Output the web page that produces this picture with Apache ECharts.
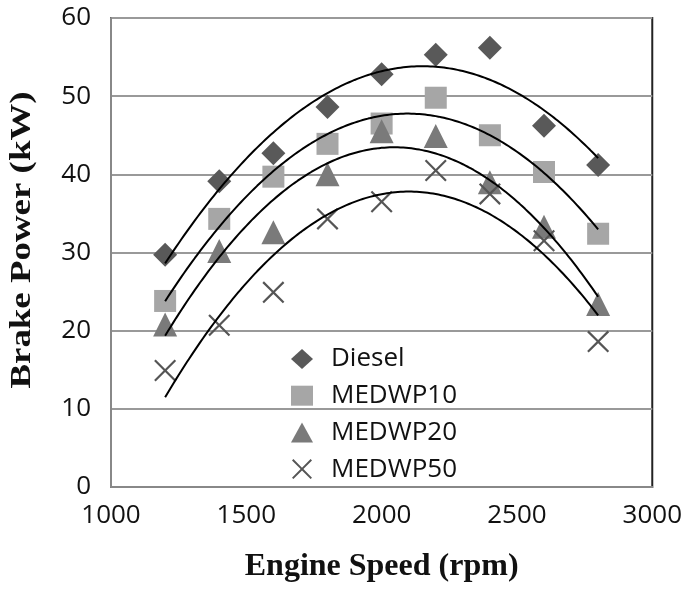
<!DOCTYPE html>
<html><head><meta charset="utf-8">
<script src="https://cdn.jsdelivr.net/npm/echarts@6/dist/echarts.min.js"></script>
<style>html,body{margin:0;padding:0;background:#fff}#c{width:685px;height:589px}</style>
</head><body><div id="c"></div>
<script>
const speeds = [1200, 1400, 1600, 1800, 2000, 2200, 2400, 2600, 2800];
const diesel  = [29.7, 39.1, 42.7, 48.6, 52.8, 55.3, 56.2, 46.2, 41.2];
const medwp10 = [23.8, 34.3, 39.7, 43.9, 46.5, 49.8, 45.0, 40.3, 32.4];
const medwp20 = [20.8, 30.2, 32.6, 40.0, 45.5, 44.9, 39.0, 33.3, 23.4];
const medwp50 = [14.9, 20.7, 24.9, 34.3, 36.5, 40.5, 37.5, 31.5, 18.6];
const xTicks = [1000, 1500, 2000, 2500, 3000];
const yTicks = [0, 10, 20, 30, 40, 50, 60];

// Least-squares 2nd order polynomial trendline (as in the original spreadsheet chart)
function polyFit(xs, ys) {
  const n = xs.length; let S = [0,0,0,0,0], T = [0,0,0];
  for (let i = 0; i < n; i++) {
    const x = (xs[i] - 2000) / 1000;
    for (let k = 0; k < 5; k++) S[k] += Math.pow(x, k);
    for (let k = 0; k < 3; k++) T[k] += ys[i] * Math.pow(x, k);
  }
  const A = [[S[0],S[1],S[2],T[0]],[S[1],S[2],S[3],T[1]],[S[2],S[3],S[4],T[2]]];
  for (let i = 0; i < 3; i++) {
    for (let j = i + 1; j < 3; j++) {
      const f = A[j][i] / A[i][i];
      for (let k = i; k < 4; k++) A[j][k] -= f * A[i][k];
    }
  }
  const c = [0,0,0];
  for (let i = 2; i >= 0; i--) {
    let s = A[i][3];
    for (let k = i + 1; k < 3; k++) s -= A[i][k] * c[k];
    c[i] = s / A[i][i];
  }
  const pts = [];
  for (let xv = xs[0]; xv <= xs[n-1] + 1e-9; xv += 10) {
    const x = (xv - 2000) / 1000;
    pts.push([xv, c[0] + c[1]*x + c[2]*x*x]);
  }
  return pts;
}

const crossPath = 'path://M0,0.7L0.7,0L5,4.3L9.3,0L10,0.7L5.7,5L10,9.3L9.3,10L5,5.7L0.7,10L0,9.3L4.3,5Z';
const mk = (name, data, symbol, color, size) => ({
  name, type: 'scatter', data: speeds.map((s, i) => [s, data[i]]),
  symbol, symbolSize: size, itemStyle: { color, opacity: 1 }, z: 3
});
const trend = (data) => ({
  type: 'line', data: polyFit(speeds, data), showSymbol: false, symbol: 'none',
  lineStyle: { color: '#000', width: 2 }, silent: true, z: 4
});

const chart = echarts.init(document.getElementById('c'));
chart.setOption({
  animation: false,
  grid: { left: 111, right: 29, top: 18, bottom: 102, show: true, borderColor: '#222', borderWidth: 2 },
  xAxis: {
    type: 'value', min: 1000, max: 3000, interval: 500,
    axisLine: { show: true, onZero: false, lineStyle: { color: '#888', width: 2 } },
    axisTick: { show: false }, splitLine: { show: false },
    axisLabel: { color: '#111', fontSize: 26, fontFamily: 'Open Sans', margin: 16,
      formatter: v => String(v) },
    name: 'Engine Speed (rpm)', nameLocation: 'middle', nameGap: 64,
    nameTextStyle: { fontFamily: 'Liberation Serif', fontWeight: 'bold', fontSize: 32, color: '#111' }
  },
  yAxis: {
    type: 'value', min: 0, max: 60, interval: 10,
    axisLine: { show: true, lineStyle: { color: '#888', width: 2 } },
    axisTick: { show: false },
    splitLine: { show: true, lineStyle: { color: '#999', width: 2 } },
    axisLabel: { color: '#111', fontSize: 26, fontFamily: 'Open Sans', margin: 20 }
  },
  graphic: [{
    type: 'text', x: 22, y: 240, rotation: Math.PI / 2, scaleX: 1.23, scaleY: 1,
    style: { text: 'Brake Power (kW)', fontFamily: 'Liberation Serif', fontWeight: 'bold',
      fontSize: 30, fill: '#111', align: 'center', verticalAlign: 'middle' }
  }],
  legend: {
    orient: 'vertical', left: 286, top: 341, itemGap: 10.7, itemWidth: 22, itemHeight: 20,
    data: ['Diesel', 'MEDWP10', 'MEDWP20', 'MEDWP50'],
    textStyle: { fontSize: 26, fontFamily: 'Open Sans', color: '#111', padding: [0, 0, 0, 13] }
  },
  series: [
    mk('Diesel', diesel, 'diamond', '#595959', 24),
    mk('MEDWP10', medwp10, 'rect', '#a6a6a6', 22),
    mk('MEDWP20', medwp20, 'triangle', '#7a7a7a', 24),
    mk('MEDWP50', medwp50, crossPath, '#555555', 22),
    trend(diesel), trend(medwp10), trend(medwp20), trend(medwp50)
  ]
});
</script></body></html>
